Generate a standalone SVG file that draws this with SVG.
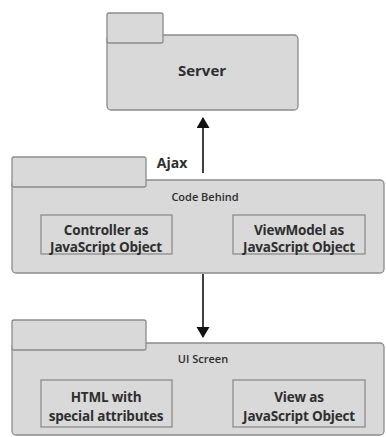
<svg xmlns="http://www.w3.org/2000/svg" width="386" height="437" viewBox="0 0 386 437">
<style>
.pk{fill:#d9d9d9;stroke:#8c8c8c;stroke-width:1.3}
.in{fill:#d9d9d9;stroke:#8c8c8c;stroke-width:1.3}
text{font-family:"Open Sans","Noto Sans","Liberation Sans",sans-serif;fill:#2e2e2e;text-anchor:middle}
.b{font-weight:bold;font-size:13.5px;letter-spacing:-0.2px}
.t{font-size:11px;font-weight:600}
.c{stroke:#111;stroke-width:1.6;fill:none}
</style>
<defs>
<marker id="ah" markerWidth="12" markerHeight="14" refX="10" refY="6.5" orient="auto" markerUnits="userSpaceOnUse">
<path d="M0,0 L11,6.5 L0,13 Z" fill="#111"/>
</marker>
</defs>
<rect width="386" height="437" fill="#fff"/>
<g id="server">
<rect class="pk" x="107" y="35" width="191" height="75" rx="4"/>
<rect class="pk" x="107" y="13" width="56" height="30" rx="2"/>
<text x="202" y="76" style="font-weight:bold;font-size:15px">Server</text>
</g>
<g id="code-behind">
<rect class="pk" x="12" y="180" width="372" height="93" rx="4"/>
<rect class="pk" x="12" y="157" width="134" height="30" rx="2"/>
<text x="205" y="201" class="t">Code Behind</text>
<g id="controller">
<rect class="in" x="41" y="215" width="131" height="39"/>
<text x="106" y="235" class="b">Controller as</text>
<text x="106" y="252" class="b">JavaScript Object</text>
</g>
<g id="viewmodel">
<rect class="in" x="233" y="215" width="132" height="39"/>
<text x="299" y="235" class="b">ViewModel as</text>
<text x="299" y="252" class="b">JavaScript Object</text>
</g>
</g>
<g id="ui-screen">
<rect class="pk" x="12" y="343" width="372" height="92" rx="4"/>
<rect class="pk" x="12" y="320" width="134" height="30" rx="2"/>
<text x="203" y="363" class="t">UI Screen</text>
<g id="html">
<rect class="in" x="41" y="380" width="131" height="47"/>
<text x="106" y="402" class="b">HTML with</text>
<text x="106" y="421" class="b">special attributes</text>
</g>
<g id="view">
<rect class="in" x="233" y="380" width="132" height="47"/>
<text x="299" y="402" class="b">View as</text>
<text x="299" y="421" class="b">JavaScript Object</text>
</g>
</g>
<g id="connectors">
<line class="c" x1="203" y1="173" x2="203" y2="118" marker-end="url(#ah)"/>
<text x="172" y="168" style="font-weight:bold;font-size:14px">Ajax</text>
<line class="c" x1="203" y1="274" x2="203" y2="337" marker-end="url(#ah)"/>
</g>
</svg>
